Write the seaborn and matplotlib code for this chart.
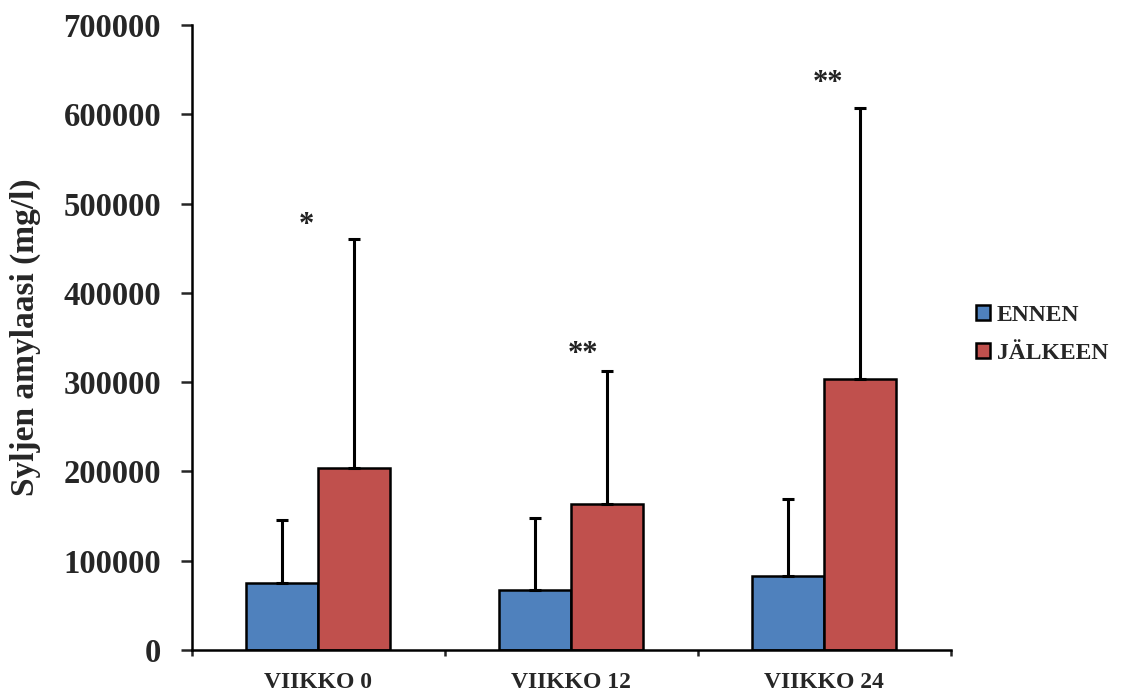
import matplotlib
matplotlib.use("Agg")
import matplotlib.pyplot as plt
import seaborn as sns
import pandas as pd
import numpy as np

# Salivary amylase before/after, by study week
weeks = ["VIIKKO 0", "VIIKKO 12", "VIIKKO 24"]
groups = ["ENNEN", "JÄLKEEN"]
mean_ennen = [74600, 67600, 83300]
mean_jalkeen = [204000, 163000, 303000]
sd_ennen = [71400, 80400, 85700]
sd_jalkeen = [256000, 149000, 303500]
significance = ["*", "**", "**"]
yticks = [0, 100000, 200000, 300000, 400000, 500000, 600000, 700000]

colors = {"ENNEN": "#4F81BD", "JÄLKEEN": "#C0504D"}

df = pd.DataFrame({
    "week": weeks * 2,
    "group": [groups[0]] * 3 + [groups[1]] * 3,
    "value": mean_ennen + mean_jalkeen,
    "sd": sd_ennen + sd_jalkeen,
})

sns.set_theme(style="white")
plt.rcParams["font.family"] = ["Liberation Serif", "DejaVu Serif"]
plt.rcParams["font.weight"] = "bold"

fig = plt.figure(figsize=(11.30, 6.91), dpi=100)
ax = fig.add_axes([0.1696, 0.0593, 0.8413 - 0.1696, 0.9638 - 0.0593])

sns.barplot(data=df, x="week", y="value", hue="group", order=weeks,
            hue_order=groups, palette=colors, width=0.57, gap=0,
            edgecolor="black", linewidth=1.8, errorbar=None, ax=ax,
            saturation=1, legend=True)

# Upward-only standard deviation bars at each bar's centre
for container, grp in zip(ax.containers, groups):
    sub = df[df["group"] == grp].set_index("week").loc[weeks]
    xs = [p.get_x() + p.get_width() / 2 for p in container.patches]
    ys = sub["value"].to_numpy()
    err = sub["sd"].to_numpy()
    ax.errorbar(xs, ys, yerr=[np.zeros_like(err), err], fmt="none",
                ecolor="black", elinewidth=2.2, capsize=4.3, capthick=2.2,
                zorder=1)

# Significance markers above the JÄLKEEN bars
star_offsets = [-0.048, 0.047, 0.014]
star_heights = [476000, 331500, 634000]
for i, (mark, dx, h) in enumerate(zip(significance, star_offsets, star_heights)):
    ax.text(i + dx, h, mark, ha="center", va="center", fontsize=22,
            fontweight="bold", color="#222222")

ax.set_xlim(-0.5, 2.5)
ax.set_ylim(0, 700000)
ax.set_yticks(yticks)
ax.set_yticklabels([str(v) for v in yticks], fontsize=23.5, fontweight="bold")
ax.set_xticks([0, 1, 2])
ax.set_xticklabels(weeks, fontsize=17, fontweight="bold")
ax.tick_params(axis="x", length=0, pad=16)
ax.tick_params(axis="y", direction="out", length=8, width=1.8, pad=14, left=True)
# Category boundary ticks on the x axis
ax.set_xticks([-0.5, 0.5, 1.5, 2.5], minor=True)
ax.tick_params(axis="x", which="minor", direction="out", length=4, width=1.8,
               bottom=True)

ax.set_xlabel("")
ax.set_ylabel("Syljen amylaasi (mg/l)", fontsize=24, fontweight="bold")
ax.yaxis.set_label_coords(-0.199, 0.5)

for side in ["top", "right"]:
    ax.spines[side].set_visible(False)
for side in ["left", "bottom"]:
    ax.spines[side].set_color("black")
    ax.spines[side].set_linewidth(1.8)

leg = ax.legend(loc="center left", bbox_to_anchor=(1.005, 0.505), frameon=False,
                prop={"family": "Liberation Serif", "weight": "bold", "size": 17},
                handlelength=0.6, handleheight=0.6, handletextpad=0.3,
                labelspacing=0.75)
for h in leg.legend_handles:
    h.set_edgecolor("black")
    h.set_linewidth(1.8)

fig.savefig("out.png", dpi=100)
